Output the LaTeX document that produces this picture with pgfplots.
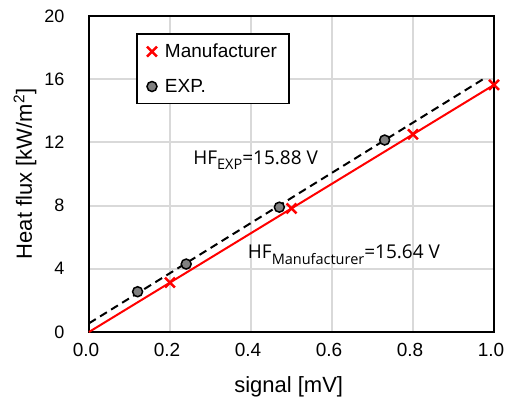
\documentclass[border=0pt]{standalone}
\usepackage{pgfplots}
\pgfplotsset{compat=1.18}
\usepackage{fontspec}
\setmainfont{Liberation Sans}
\newfontfamily\annfont{Open Sans}
\definecolor{gridgray}{RGB}{217,217,217}
\definecolor{mred}{RGB}{255,0,0}
\definecolor{dotgray}{RGB}{128,128,128}
\newcommand{\sub}[1]{\raisebox{-0.28em}{\fontsize{14.5}{15}\selectfont #1}}
\begin{document}
\begin{tikzpicture}
\path[use as bounding box] (-89pt,-67pt) rectangle (417pt,16pt+316pt);
\begin{axis}[
  at={(0,0)}, anchor=south west,
  scale only axis,
  width=405pt, height=316pt,
  xmin=0, xmax=1, ymin=0, ymax=20,
  xtick={0,0.2,...,1.0},
  ytick={0,4,...,20},
  /pgf/number format/assume math mode=true,
  yticklabel style={font=\fontsize{18}{20}\selectfont, xshift=-21pt},
  xticklabel style={font=\fontsize{19}{22}\selectfont, yshift=-8pt, xshift=-3pt,
    /pgf/number format/fixed, /pgf/number format/fixed zerofill, /pgf/number format/precision=1},
  grid=major,
  major grid style={gridgray, line width=2pt},
  axis line style={black, line width=2pt},
  tick style={draw=none},
  xlabel={signal [mV]},
  ylabel={Heat flux [kW/m\textsuperscript{2}]},
  label style={font=\fontsize{22}{24}\selectfont},
  xlabel style={at={(axis description cs:0.493,-0.19)}, anchor=base},
  ylabel style={at={(axis description cs:-0.158,0.5)}, anchor=center},
  legend style={at={(0.117,0.945)}, anchor=north west, draw=black, line width=1.2pt,
    font=\fontsize{19}{21}\selectfont, row sep=16pt, inner xsep=10pt, inner ysep=8pt,
    legend cell align=left,
    /tikz/every odd column/.append style={column sep=6pt}},
  legend image code/.code={\draw[#1] plot coordinates {(0.12cm,0cm)};},
  clip=false,
]
\addplot[mred, line width=2pt, forget plot] coordinates {(0,0) (1,15.64)};
\addplot[black, line width=2pt, dash pattern=on 8pt off 5pt, forget plot] coordinates {(0,0.55) (0.98,16.11)};
\addplot[only marks, mark=x, mark size=7pt, mark options={mred, line width=2.5pt}] coordinates {
  (0.2,3.13) (0.5,7.82) (0.8,12.51) (1.0,15.64)};
\addlegendentry{Manufacturer}
\addplot[only marks, mark=*, mark size=5pt, mark options={fill=dotgray, draw=black, line width=1.5pt}] coordinates {
  (0.12,2.55) (0.24,4.3) (0.47,7.9) (0.73,12.15)};
\addlegendentry{EXP.}
\node[anchor=base west, font=\annfont\fontsize{19}{21}\selectfont, inner sep=0pt] at (axis cs:0.257,10.63) {HF\sub{EXP}=15.88 V};
\node[anchor=base west, font=\annfont\fontsize{19}{21}\selectfont, inner sep=0pt] at (axis cs:0.392,4.64) {HF\sub{Manufacturer}=15.64 V};
\end{axis}
\end{tikzpicture}
\end{document}
